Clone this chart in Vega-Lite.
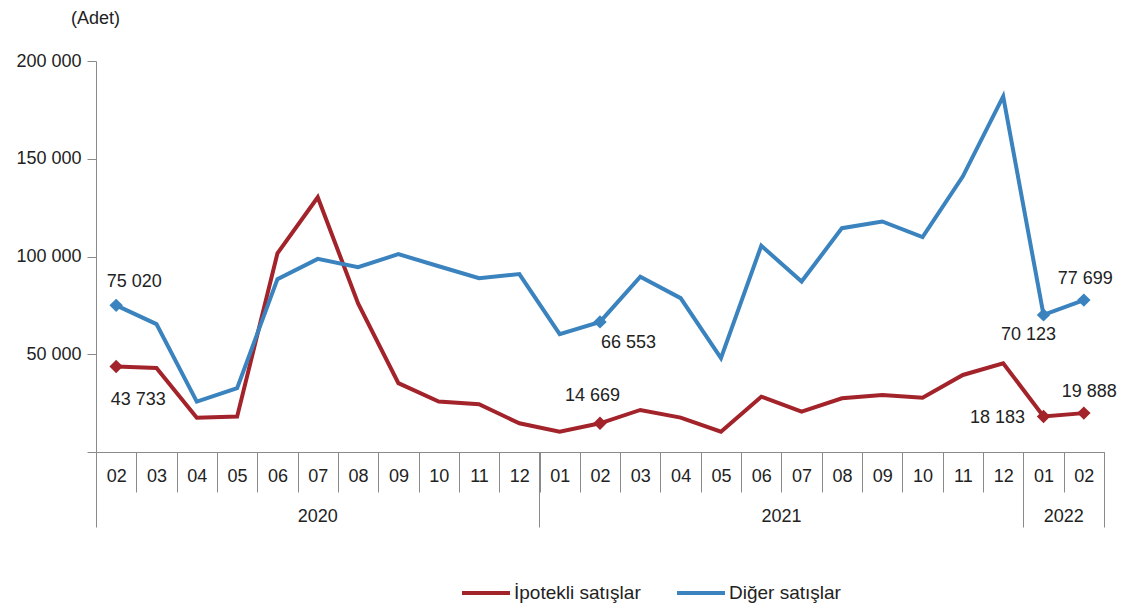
{
  "$schema": "https://vega.github.io/schema/vega-lite/v6.json",
  "width": 1008,
  "height": 391,
  "autosize": "none",
  "padding": {"left": 96, "top": 61, "right": 22, "bottom": 152},
  "background": "white",
  "config": {
    "locale": {"number": {"decimal": ",", "thousands": " ", "grouping": [3], "currency": ["", ""]}},
    "font": "Liberation Sans",
    "view": {"stroke": null},
    "axis": {"labelFont": "Liberation Sans", "labelFontSize": 18, "labelColor": "#222222", "domainColor": "#8a8a8a", "tickColor": "#8a8a8a", "grid": false, "domainWidth": 1, "tickWidth": 1}
  },
  "data": {"values": [
    {"ay": "2020-02", "seri": "İpotekli satışlar", "deger": 43733},
    {"ay": "2020-03", "seri": "İpotekli satışlar", "deger": 43000},
    {"ay": "2020-04", "seri": "İpotekli satışlar", "deger": 17500},
    {"ay": "2020-05", "seri": "İpotekli satışlar", "deger": 18100},
    {"ay": "2020-06", "seri": "İpotekli satışlar", "deger": 101600},
    {"ay": "2020-07", "seri": "İpotekli satışlar", "deger": 130300},
    {"ay": "2020-08", "seri": "İpotekli satışlar", "deger": 76000},
    {"ay": "2020-09", "seri": "İpotekli satışlar", "deger": 35200},
    {"ay": "2020-10", "seri": "İpotekli satışlar", "deger": 25800},
    {"ay": "2020-11", "seri": "İpotekli satışlar", "deger": 24400},
    {"ay": "2020-12", "seri": "İpotekli satışlar", "deger": 14700},
    {"ay": "2021-01", "seri": "İpotekli satışlar", "deger": 10400},
    {"ay": "2021-02", "seri": "İpotekli satışlar", "deger": 14669},
    {"ay": "2021-03", "seri": "İpotekli satışlar", "deger": 21500},
    {"ay": "2021-04", "seri": "İpotekli satışlar", "deger": 17600},
    {"ay": "2021-05", "seri": "İpotekli satışlar", "deger": 10400},
    {"ay": "2021-06", "seri": "İpotekli satışlar", "deger": 28300},
    {"ay": "2021-07", "seri": "İpotekli satışlar", "deger": 20600},
    {"ay": "2021-08", "seri": "İpotekli satışlar", "deger": 27500},
    {"ay": "2021-09", "seri": "İpotekli satışlar", "deger": 29200},
    {"ay": "2021-10", "seri": "İpotekli satışlar", "deger": 27800},
    {"ay": "2021-11", "seri": "İpotekli satışlar", "deger": 39400},
    {"ay": "2021-12", "seri": "İpotekli satışlar", "deger": 45400},
    {"ay": "2022-01", "seri": "İpotekli satışlar", "deger": 18183},
    {"ay": "2022-02", "seri": "İpotekli satışlar", "deger": 19888},
    {"ay": "2020-02", "seri": "Diğer satışlar", "deger": 75020},
    {"ay": "2020-03", "seri": "Diğer satışlar", "deger": 65400},
    {"ay": "2020-04", "seri": "Diğer satışlar", "deger": 25800},
    {"ay": "2020-05", "seri": "Diğer satışlar", "deger": 32600},
    {"ay": "2020-06", "seri": "Diğer satışlar", "deger": 88400},
    {"ay": "2020-07", "seri": "Diğer satışlar", "deger": 98800},
    {"ay": "2020-08", "seri": "Diğer satışlar", "deger": 94500},
    {"ay": "2020-09", "seri": "Diğer satışlar", "deger": 101200},
    {"ay": "2020-10", "seri": "Diğer satışlar", "deger": 95000},
    {"ay": "2020-11", "seri": "Diğer satışlar", "deger": 88900},
    {"ay": "2020-12", "seri": "Diğer satışlar", "deger": 91000},
    {"ay": "2021-01", "seri": "Diğer satışlar", "deger": 60300},
    {"ay": "2021-02", "seri": "Diğer satışlar", "deger": 66553},
    {"ay": "2021-03", "seri": "Diğer satışlar", "deger": 89700},
    {"ay": "2021-04", "seri": "Diğer satışlar", "deger": 78700},
    {"ay": "2021-05", "seri": "Diğer satışlar", "deger": 48000},
    {"ay": "2021-06", "seri": "Diğer satışlar", "deger": 105500},
    {"ay": "2021-07", "seri": "Diğer satışlar", "deger": 87200},
    {"ay": "2021-08", "seri": "Diğer satışlar", "deger": 114500},
    {"ay": "2021-09", "seri": "Diğer satışlar", "deger": 117900},
    {"ay": "2021-10", "seri": "Diğer satışlar", "deger": 109900},
    {"ay": "2021-11", "seri": "Diğer satışlar", "deger": 141000},
    {"ay": "2021-12", "seri": "Diğer satışlar", "deger": 181900},
    {"ay": "2022-01", "seri": "Diğer satışlar", "deger": 70123},
    {"ay": "2022-02", "seri": "Diğer satışlar", "deger": 77699}
  ]},
  "resolve": {"axis": {"x": "independent", "y": "independent"}},
  "layer": [
    {
      "mark": {"type": "line", "strokeWidth": 4, "strokeJoin": "miter"},
      "encoding": {
        "x": {"field": "ay", "type": "ordinal", "sort": null, "bandPosition": 0.5,
          "scale": {"type": "band", "paddingInner": 0, "paddingOuter": 0},
          "axis": {"orient": "bottom", "title": null, "labelExpr": "isValid(datum.value) ? substring(datum.value, 5) : ''", "tickBand": "extent", "tickSize": 40, "labelPadding": -25, "labelAngle": 0, "labelBaseline": "top"}},
        "y": {"field": "deger", "type": "quantitative",
          "scale": {"domain": [0, 200000], "nice": false, "zero": true},
          "axis": {"orient": "left", "title": "(Adet)", "titleAngle": 0, "titleX": -1, "titleY": -43, "titleAlign": "center", "titleBaseline": "middle", "titleFont": "Liberation Sans", "titleFontSize": 18, "titleFontWeight": "normal", "titleColor": "#222222", "values": [0, 50000, 100000, 150000, 200000], "format": ",d", "labelExpr": "datum.value == 0 ? '' : datum.label", "tickSize": 9, "labelPadding": 6}},
        "color": {"field": "seri", "type": "nominal",
          "scale": {"domain": ["İpotekli satışlar", "Diğer satışlar"], "range": ["#A3232B", "#3A83BE"]},
          "legend": {"title": null, "orient": "none", "direction": "horizontal", "legendX": 364, "legendY": 506, "symbolType": "stroke", "symbolSize": 2304, "symbolStrokeWidth": 4, "labelFont": "Liberation Sans", "labelFontSize": 19, "labelColor": "#222222", "labelOffset": 2, "columnPadding": 28, "padding": 0}}
      }
    },
    {
      "transform": [{"filter": "indexof(['2020-02','2021-02','2022-01','2022-02'], datum.ay) >= 0"}],
      "mark": {"type": "point", "shape": "diamond", "filled": true, "size": 180, "opacity": 1},
      "encoding": {
        "x": {"field": "ay", "type": "ordinal", "sort": null, "bandPosition": 0.5, "axis": null},
        "y": {"field": "deger", "type": "quantitative", "axis": null},
        "color": {"field": "seri", "type": "nominal", "legend": null}
      }
    },
    {
      "transform": [{"filter": "datum.ay == '2020-02' && datum.seri == 'Diğer satışlar'"}],
      "mark": {"type": "text", "dx": 18, "dy": -23.5, "align": "center", "baseline": "middle", "fontSize": 18, "color": "#222222"},
      "encoding": {"x": {"field": "ay", "type": "ordinal", "sort": null, "bandPosition": 0.5, "axis": null}, "y": {"field": "deger", "type": "quantitative", "axis": null}, "text": {"field": "deger", "type": "quantitative", "format": ",d"}}
    },
    {
      "transform": [{"filter": "datum.ay == '2020-02' && datum.seri == 'İpotekli satışlar'"}],
      "mark": {"type": "text", "dx": 22, "dy": 33, "align": "center", "baseline": "middle", "fontSize": 18, "color": "#222222"},
      "encoding": {"x": {"field": "ay", "type": "ordinal", "sort": null, "bandPosition": 0.5, "axis": null}, "y": {"field": "deger", "type": "quantitative", "axis": null}, "text": {"field": "deger", "type": "quantitative", "format": ",d"}}
    },
    {
      "transform": [{"filter": "datum.ay == '2021-02' && datum.seri == 'İpotekli satışlar'"}],
      "mark": {"type": "text", "dx": -7.5, "dy": -27.5, "align": "center", "baseline": "middle", "fontSize": 18, "color": "#222222"},
      "encoding": {"x": {"field": "ay", "type": "ordinal", "sort": null, "bandPosition": 0.5, "axis": null}, "y": {"field": "deger", "type": "quantitative", "axis": null}, "text": {"field": "deger", "type": "quantitative", "format": ",d"}}
    },
    {
      "transform": [{"filter": "datum.ay == '2021-02' && datum.seri == 'Diğer satışlar'"}],
      "mark": {"type": "text", "dx": 28.5, "dy": 21, "align": "center", "baseline": "middle", "fontSize": 18, "color": "#222222"},
      "encoding": {"x": {"field": "ay", "type": "ordinal", "sort": null, "bandPosition": 0.5, "axis": null}, "y": {"field": "deger", "type": "quantitative", "axis": null}, "text": {"field": "deger", "type": "quantitative", "format": ",d"}}
    },
    {
      "transform": [{"filter": "datum.ay == '2022-01' && datum.seri == 'Diğer satışlar'"}],
      "mark": {"type": "text", "dx": -15, "dy": 20, "align": "center", "baseline": "middle", "fontSize": 18, "color": "#222222"},
      "encoding": {"x": {"field": "ay", "type": "ordinal", "sort": null, "bandPosition": 0.5, "axis": null}, "y": {"field": "deger", "type": "quantitative", "axis": null}, "text": {"field": "deger", "type": "quantitative", "format": ",d"}}
    },
    {
      "transform": [{"filter": "datum.ay == '2022-02' && datum.seri == 'Diğer satışlar'"}],
      "mark": {"type": "text", "dx": 1.5, "dy": -21, "align": "center", "baseline": "middle", "fontSize": 18, "color": "#222222"},
      "encoding": {"x": {"field": "ay", "type": "ordinal", "sort": null, "bandPosition": 0.5, "axis": null}, "y": {"field": "deger", "type": "quantitative", "axis": null}, "text": {"field": "deger", "type": "quantitative", "format": ",d"}}
    },
    {
      "transform": [{"filter": "datum.ay == '2022-01' && datum.seri == 'İpotekli satışlar'"}],
      "mark": {"type": "text", "dx": -18.5, "dy": 2, "align": "right", "baseline": "middle", "fontSize": 18, "color": "#222222"},
      "encoding": {"x": {"field": "ay", "type": "ordinal", "sort": null, "bandPosition": 0.5, "axis": null}, "y": {"field": "deger", "type": "quantitative", "axis": null}, "text": {"field": "deger", "type": "quantitative", "format": ",d"}}
    },
    {
      "transform": [{"filter": "datum.ay == '2022-02' && datum.seri == 'İpotekli satışlar'"}],
      "mark": {"type": "text", "dx": 5.5, "dy": -21.5, "align": "center", "baseline": "middle", "fontSize": 18, "color": "#222222"},
      "encoding": {"x": {"field": "ay", "type": "ordinal", "sort": null, "bandPosition": 0.5, "axis": null}, "y": {"field": "deger", "type": "quantitative", "axis": null}, "text": {"field": "deger", "type": "quantitative", "format": ",d"}}
    },
    {
      "mark": {"type": "point", "opacity": 0},
      "encoding": {
        "x": {"field": "ay", "type": "ordinal", "sort": null, "axis": {"orient": "bottom", "title": null, "values": ["2020-02", "2021-01", "2022-01"], "bandPosition": 0, "tickSize": 75, "labels": false, "domain": false}},
        "y": {"field": "deger", "type": "quantitative", "axis": null}
      }
    },
    {
      "mark": {"type": "point", "opacity": 0},
      "encoding": {
        "x": {"field": "ay", "type": "ordinal", "sort": null, "axis": {"orient": "bottom", "title": null, "values": ["2022-02"], "bandPosition": 1, "tickSize": 75, "labels": false, "domain": false}},
        "y": {"field": "deger", "type": "quantitative", "axis": null}
      }
    },
    {
      "mark": {"type": "point", "opacity": 0},
      "encoding": {
        "x": {"field": "ay", "type": "ordinal", "sort": null, "axis": {"orient": "bottom", "title": null, "values": ["2020-07"], "ticks": false, "tickSize": 0, "domain": false, "labelExpr": "'2020'", "labelPadding": 55, "labelAngle": 0, "labelBaseline": "top"}},
        "y": {"field": "deger", "type": "quantitative", "axis": null}
      }
    },
    {
      "mark": {"type": "point", "opacity": 0},
      "encoding": {
        "x": {"field": "ay", "type": "ordinal", "sort": null, "axis": {"orient": "bottom", "title": null, "values": ["2021-07", "2022-02"], "ticks": false, "tickSize": 0, "domain": false, "labelExpr": "substring(datum.value, 0, 4)", "labelOffset": -20.16, "labelPadding": 55, "labelAngle": 0, "labelBaseline": "top"}},
        "y": {"field": "deger", "type": "quantitative", "axis": null}
      }
    }
  ]
}
